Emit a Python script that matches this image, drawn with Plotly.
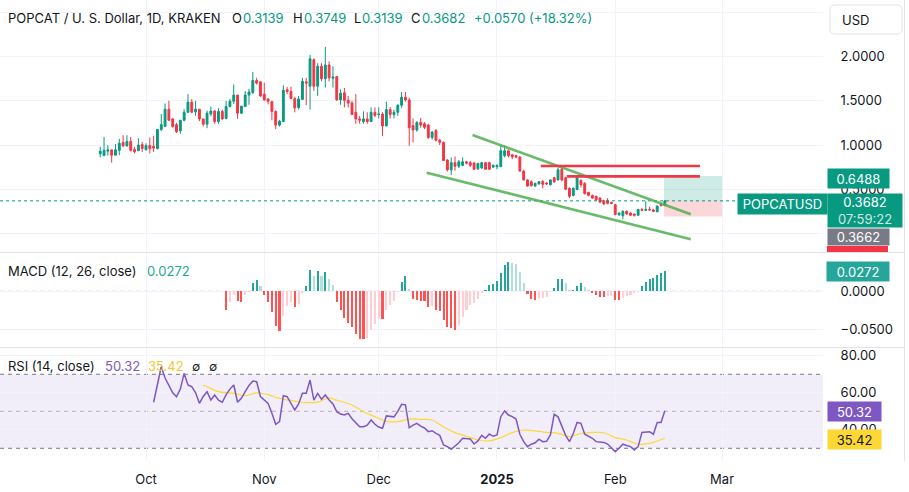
import pandas as pd
import plotly.graph_objects as go

# ---------------- data ----------------
start_date = "2024-09-19"

opens = [0.90, 0.88, 0.93, 0.945, 0.885, 0.94, 1.03, 0.99, 1.04, 0.95,
         0.935, 1.005, 0.945, 0.995, 0.985, 0.96, 1.175, 1.21, 1.405, 1.295,
         1.23, 1.16, 1.28, 1.37, 1.485, 1.375, 1.405, 1.295, 1.235, 1.35,
         1.385, 1.265, 1.38, 1.30, 1.435, 1.495, 1.565, 1.36, 1.435, 1.565,
         1.595, 1.73, 1.715, 1.575, 1.52, 1.49, 1.38, 1.225, 1.265, 1.625,
         1.605, 1.525, 1.425, 1.515, 1.715, 1.665, 1.965, 1.665, 1.89, 1.75,
         1.905, 1.755, 1.775, 1.51, 1.59, 1.505, 1.475, 1.37, 1.295, 1.265,
         1.295, 1.265, 1.37, 1.345, 1.35, 1.215, 1.40, 1.345, 1.37, 1.45,
         1.54, 1.51, 1.22, 1.17, 1.255, 1.24, 1.225, 1.085, 1.165, 1.055,
         1.03, 0.83, 0.72, 0.80, 0.76, 0.77, 0.81, 0.80, 0.795, 0.73,
         0.74, 0.80, 0.80, 0.75, 0.755, 0.755, 0.88, 0.935, 0.89, 0.88,
         0.865, 0.705, 0.605, 0.585, 0.535, 0.56, 0.59, 0.57, 0.55, 0.63,
         0.605, 0.725, 0.63, 0.51, 0.43, 0.495, 0.60, 0.565, 0.465, 0.43,
         0.42, 0.40, 0.37, 0.37, 0.35, 0.325, 0.21, 0.20, 0.25, 0.23,
         0.22, 0.205, 0.27, 0.26, 0.27, 0.265, 0.245, 0.33, 0.3139]
highs = [0.98, 1.09, 1.00, 0.945, 1.01, 1.07, 1.11, 1.11, 1.09, 0.98,
         1.075, 1.035, 1.02, 1.085, 1.105, 1.175, 1.35, 1.47, 1.50, 1.305,
         1.25, 1.28, 1.405, 1.575, 1.52, 1.50, 1.405, 1.295, 1.39, 1.435,
         1.395, 1.415, 1.40, 1.50, 1.52, 1.685, 1.565, 1.44, 1.61, 1.635,
         1.825, 1.76, 1.715, 1.705, 1.53, 1.50, 1.39, 1.285, 1.675, 1.655,
         1.66, 1.545, 1.555, 1.76, 1.76, 2.02, 1.98, 1.925, 1.925, 2.11,
         1.945, 1.89, 1.775, 1.63, 1.645, 1.555, 1.50, 1.575, 1.33, 1.38,
         1.37, 1.425, 1.425, 1.425, 1.37, 1.49, 1.43, 1.40, 1.46, 1.60,
         1.60, 1.535, 1.30, 1.27, 1.305, 1.26, 1.24, 1.16, 1.18, 1.07,
         1.04, 0.84, 0.86, 0.87, 0.83, 0.86, 0.82, 0.82, 0.81, 0.80,
         0.81, 0.81, 0.81, 0.78, 0.78, 0.995, 0.995, 0.95, 0.90, 0.89,
         0.87, 0.72, 0.61, 0.60, 0.575, 0.59, 0.60, 0.58, 0.61, 0.64,
         0.74, 0.74, 0.64, 0.52, 0.52, 0.66, 0.61, 0.58, 0.47, 0.44,
         0.425, 0.41, 0.38, 0.40, 0.36, 0.33, 0.24, 0.26, 0.26, 0.24,
         0.225, 0.28, 0.29, 0.365, 0.30, 0.275, 0.315, 0.335, 0.3749]
lows = [0.86, 0.88, 0.88, 0.80, 0.885, 0.885, 0.975, 0.98, 0.925, 0.905,
        0.935, 0.92, 0.94, 0.905, 0.92, 0.95, 1.16, 1.21, 1.27, 1.195,
        1.135, 1.13, 1.27, 1.365, 1.36, 1.33, 1.27, 1.21, 1.19, 1.325,
        1.24, 1.24, 1.285, 1.29, 1.425, 1.465, 1.295, 1.35, 1.435, 1.455,
        1.575, 1.685, 1.545, 1.50, 1.46, 1.28, 1.18, 1.21, 1.265, 1.575,
        1.52, 1.37, 1.40, 1.515, 1.45, 1.40, 1.61, 1.555, 1.72, 1.65,
        1.72, 1.65, 1.50, 1.455, 1.425, 1.425, 1.345, 1.24, 1.24, 1.24,
        1.24, 1.265, 1.315, 1.30, 1.10, 1.215, 1.30, 1.30, 1.33, 1.42,
        1.49, 0.99, 1.03, 1.15, 1.195, 1.18, 1.07, 1.06, 1.04, 1.00,
        0.82, 0.70, 0.66, 0.71, 0.74, 0.76, 0.78, 0.75, 0.72, 0.72,
        0.73, 0.72, 0.72, 0.74, 0.725, 0.75, 0.86, 0.86, 0.84, 0.85,
        0.70, 0.60, 0.53, 0.53, 0.53, 0.55, 0.51, 0.55, 0.54, 0.57,
        0.60, 0.59, 0.49, 0.40, 0.42, 0.49, 0.52, 0.44, 0.42, 0.39,
        0.37, 0.34, 0.32, 0.33, 0.33, 0.205, 0.20, 0.16, 0.21, 0.195,
        0.19, 0.20, 0.25, 0.255, 0.26, 0.24, 0.24, 0.305, 0.3139]
closes = [0.93, 0.94, 0.945, 0.885, 0.945, 1.02, 0.99, 1.04, 0.94, 0.925,
          1.00, 0.96, 0.995, 0.96, 0.965, 1.175, 1.23, 1.405, 1.28, 1.21,
          1.15, 1.28, 1.37, 1.485, 1.37, 1.405, 1.295, 1.235, 1.36, 1.385,
          1.265, 1.38, 1.295, 1.435, 1.495, 1.565, 1.36, 1.44, 1.565, 1.60,
          1.73, 1.70, 1.555, 1.51, 1.495, 1.38, 1.225, 1.27, 1.62, 1.605,
          1.525, 1.42, 1.52, 1.72, 1.70, 1.975, 1.665, 1.89, 1.75, 1.905,
          1.76, 1.77, 1.51, 1.585, 1.505, 1.475, 1.345, 1.295, 1.28, 1.295,
          1.265, 1.37, 1.335, 1.35, 1.215, 1.40, 1.345, 1.37, 1.45, 1.54,
          1.51, 1.195, 1.17, 1.255, 1.225, 1.20, 1.085, 1.145, 1.055, 1.03,
          0.825, 0.72, 0.80, 0.76, 0.81, 0.81, 0.795, 0.77, 0.725, 0.79,
          0.80, 0.725, 0.725, 0.77, 0.77, 0.935, 0.935, 0.88, 0.865, 0.865,
          0.705, 0.605, 0.535, 0.54, 0.565, 0.585, 0.555, 0.56, 0.605, 0.585,
          0.72, 0.605, 0.50, 0.42, 0.51, 0.63, 0.55, 0.45, 0.43, 0.40,
          0.38, 0.355, 0.335, 0.34, 0.34, 0.215, 0.23, 0.25, 0.22, 0.205,
          0.205, 0.27, 0.26, 0.27, 0.265, 0.25, 0.31, 0.3139, 0.3682]

# MACD histogram (12, 26, close), first value on the 34th candle
macd_first = 33
macd_hist = [-0.0243, -0.0146, -0.0053, -0.0124, -0.0137, -0.0053, -0.0009, 0.011, 0.015, 0.007,
             -0.0044, -0.0137, -0.027, -0.0455, -0.052, -0.032, -0.019, -0.0146, -0.0203, -0.0164,
             -0.0018, 0.007, 0.0283, 0.0203, 0.027, 0.0203, 0.0256, 0.0164, 0.0084, -0.0137,
             -0.0243, -0.035, -0.0415, -0.0469, -0.056, -0.0628, -0.0628, -0.0614, -0.0508, -0.0429,
             -0.0362, -0.0362, -0.0243, -0.0177, -0.0124, -0.0013, 0.0124, 0.0203, 0.003, -0.0097,
             -0.011, -0.0124, -0.0124, -0.0203, -0.019, -0.0243, -0.0256, -0.0376, -0.0469, -0.0482,
             -0.0508, -0.0442, -0.0336, -0.0243, -0.0177, -0.015, -0.0097, -0.0018, 0.0018, 0.0084,
             0.0097, 0.0137, 0.0243, 0.0349, 0.0389, 0.0376, 0.0362, 0.0256, 0.011, -0.0035,
             -0.0097, -0.011, -0.0097, -0.0084, -0.0071, -0.0004, 0.0044, 0.0164, 0.0166, 0.011,
             0.0018, 0.0022, 0.007, 0.011, 0.0057, 0.0018, -0.0018, -0.0044, -0.0071, -0.0071,
             -0.0068, -0.0066, -0.011, -0.011, -0.0084, -0.0057, -0.0044, -0.0027, -0.0004, 0.007,
             0.0124, 0.0164, 0.0177, 0.0217, 0.0243, 0.0272]

# RSI (14, close), first value on the 15th candle
rsi_first = 14
rsi = [54.9, 65, 74.1, 68, 64, 60, 57.9, 62, 70.5, 64.2,
       63.3, 60, 54.3, 58, 60.6, 56.1, 58.8, 56, 54.9, 59,
       62, 64.2, 54.9, 57, 60.6, 64, 66.4, 66, 58, 56,
       54.3, 49, 43, 44.4, 58.4, 57.9, 54, 50.7, 54, 59.7,
       59.7, 66.9, 56.1, 59.7, 56.5, 58.8, 56.1, 54, 49.8, 48.5,
       48, 48.9, 46, 44, 41.7, 41.7, 42.5, 45.3, 43, 41.5,
       40.8, 47.5, 47.1, 47, 50, 53.8, 53.5, 41.1, 42.5, 43.5,
       42, 41, 39, 39.5, 38.1, 37, 31.8, 30.9, 29.5, 31,
       33, 35.4, 35.2, 35, 32.3, 34, 37, 35.4, 37.7, 36.5,
       37.2, 47.1, 50.2, 48, 47.1, 45.8, 37.6, 33.6, 30.9, 32.2,
       33, 34.9, 33.6, 33.8, 37.2, 48.4, 47, 42, 37, 33.6,
       38, 44, 43.5, 37.6, 36.5, 35.4, 33.6, 33.2, 33.2, 32.3,
       30, 28.2, 30, 32.2, 31.5, 30.9, 29.1, 30.9, 38.6, 39,
       39, 37.6, 44, 44, 50.32]

# RSI moving average (yellow), read at these dates
rsi_ma_dates = ["2024-10-16", "2024-10-17", "2024-10-20", "2024-10-24", "2024-10-27",
                "2024-10-30", "2024-11-02", "2024-11-05", "2024-11-09", "2024-11-12",
                "2024-11-15", "2024-11-18", "2024-11-20", "2024-11-24", "2024-11-27",
                "2024-11-30", "2024-12-03", "2024-12-06", "2024-12-09", "2024-12-12",
                "2024-12-15", "2024-12-18", "2024-12-21", "2024-12-24", "2024-12-27",
                "2024-12-30", "2025-01-02", "2025-01-05", "2025-01-08", "2025-01-11",
                "2025-01-14", "2025-01-17", "2025-01-20", "2025-01-23", "2025-01-26",
                "2025-01-29", "2025-02-01", "2025-02-04", "2025-02-07", "2025-02-10",
                "2025-02-14"]
rsi_ma = [64.2, 63.3, 60.6, 59.7, 58.4, 60, 59, 57, 55.5, 54.7,
          55, 57.3, 56, 53.4, 49.8, 47.1, 44.6, 44.4, 45.8, 45.6,
          45.3, 41.5, 38.5, 36.5, 34.5, 34, 35.8, 38.5, 39.9, 39.4,
          38.6, 38.1, 36.3, 38, 38.6, 38.4, 35.8, 34.5, 32.2, 32.7,
          35.42]

# drawings
trend_upper = [("2024-12-25 14:00", 1.113), ("2025-02-20 19:00", 0.216)]
trend_lower = [("2024-12-13 14:00", 0.687), ("2025-02-20 19:00", -0.067)]
red_levels = [("2025-01-12 12:00", "2025-02-23 05:00", 0.762),
              ("2025-01-19 07:00", "2025-02-23 05:00", 0.645)]
pos_start, pos_end = "2025-02-13 19:00", "2025-03-01 00:00"
pos_entry, pos_target, pos_stop = 0.3682, 0.6488, 0.19

last_price = 0.3682
price_ticks = [0.0, 0.5, 1.0, 1.5, 2.0, 2.5]
price_tick_text = ["", "0.5000", "1.0000", "1.5000", "2.0000", ""]   # 0 and 2.5 hidden under labels
macd_ticks = [0.0, -0.05]
macd_tick_text = ["0.0000", "\u22120.0500"]
rsi_ticks = [40, 60, 80]
rsi_tick_text = ["40.00", "60.00", "80.00"]
month_ticks = ["2024-10-01", "2024-11-01", "2024-12-01", "2025-01-01", "2025-02-01", "2025-03-01"]
month_text = ["Oct", "Nov", "Dec", "<b>2025</b>", "Feb", "Mar"]

# ---------------- styling / layout geometry ----------------
W, H = 909, 492
PW, PH = 823, 461          # plot area size in px
FONT = "Inter, Roboto, 'Noto Sans', sans-serif"
TXT = "#131722"
UP, DOWN = "#089981", "#F23645"
GRID = "#F0F3FA"
SEP = "#E0E3EB"

PX_PER_DAY = 3.815
OCT1_PX = 146
oct1 = pd.Timestamp("2024-10-01")
x_range = [oct1 - pd.Timedelta(days=OCT1_PX / PX_PER_DAY),
           oct1 + pd.Timedelta(days=(PW - OCT1_PX) / PX_PER_DAY)]


def X(px):
    return px / PW


def Y(py):
    return 1 - py / PH


dates = pd.date_range(start_date, periods=len(closes), freq="D")

fig = go.Figure()

fig.add_trace(go.Candlestick(
    x=dates, open=opens, high=highs, low=lows, close=closes,
    increasing=dict(line=dict(color=UP, width=1), fillcolor=UP),
    decreasing=dict(line=dict(color=DOWN, width=1), fillcolor=DOWN),
    whiskerwidth=0, xaxis="x", yaxis="y", hoverinfo="skip"))

# MACD histogram colours (TradingView rule)
mcols = []
for k, v in enumerate(macd_hist):
    prev = macd_hist[k - 1] if k > 0 else (v + 1 if v >= 0 else 0)
    if v >= 0:
        mcols.append("#26A69A" if v > prev else "#B2DFDB")
    else:
        mcols.append("#FFCDD2" if v > prev else "#FF5252")

fig.add_trace(go.Bar(
    x=dates[macd_first:], y=macd_hist, marker=dict(color=mcols, line=dict(width=0)),
    width=0.55 * 86400000, xaxis="x2", yaxis="y2", hoverinfo="skip"))

fig.add_trace(go.Scatter(
    x=pd.to_datetime(rsi_ma_dates), y=rsi_ma, mode="lines",
    line=dict(color="#FDD835", width=1.2, shape="spline", smoothing=1.0),
    xaxis="x3", yaxis="y3", hoverinfo="skip"))
fig.add_trace(go.Scatter(
    x=dates[rsi_first:], y=rsi, mode="lines",
    line=dict(color="#7E57C2", width=1.5),
    xaxis="x3", yaxis="y3", hoverinfo="skip"))

xcommon = dict(range=x_range, tickvals=pd.to_datetime(month_ticks), ticktext=month_text,
               showgrid=True, gridcolor=GRID, gridwidth=1, zeroline=False, showline=False,
               domain=[0, 1], fixedrange=True)
ycommon = dict(side="right", showgrid=True, gridcolor=GRID, zeroline=False, showline=False,
               ticks="outside", ticklen=14, tickcolor="rgba(0,0,0,0)",
               tickfont=dict(size=13, color=TXT, family=FONT), fixedrange=True)

fig.update_layout(
    width=W, height=H,
    margin=dict(l=0, r=W - PW, t=0, b=H - PH, pad=0),
    paper_bgcolor="white", plot_bgcolor="white",
    showlegend=False, bargap=0,
    font=dict(family=FONT, size=13, color=TXT),
    xaxis=dict(**xcommon, anchor="y", showticklabels=False, rangeslider=dict(visible=False)),
    xaxis2=dict(**xcommon, anchor="y2", matches="x", showticklabels=False),
    xaxis3=dict(**xcommon, anchor="y3", matches="x", showticklabels=True,
                ticks="outside", ticklen=6, tickcolor="rgba(0,0,0,0)",
                tickfont=dict(size=13, color=TXT, family=FONT)),
    yaxis=dict(**ycommon, anchor="x", domain=[Y(252), 1],
               range=[1 - (252 - 145) / 88.4, 1 + 145 / 88.4],
               tickvals=price_ticks, ticktext=price_tick_text),
    yaxis2=dict(**ycommon, anchor="x2", domain=[Y(347), Y(253)],
                range=[-(347 - 291.3) / 760, (291.3 - 253) / 760],
                tickvals=macd_ticks, ticktext=macd_tick_text),
    yaxis3=dict(**ycommon, anchor="x3", domain=[0, Y(348)],
                range=[50 - (PH - 411.3) / 1.85, 50 + (411.3 - 348) / 1.85],
                tickvals=rsi_ticks, ticktext=rsi_tick_text),
)

shapes = []
# RSI band and levels
shapes.append(dict(type="rect", xref="paper", yref="y3", x0=0, x1=1, y0=30, y1=70,
                   fillcolor="rgba(126,87,194,0.1)", line=dict(width=0), layer="below"))
for lv, col in [(70, "#787B86"), (30, "#787B86"), (50, "rgba(120,123,134,0.5)")]:
    shapes.append(dict(type="line", xref="paper", yref="y3", x0=0, x1=1, y0=lv, y1=lv,
                       line=dict(color=col, width=1, dash="4px,4px"), layer="below"))
# MACD zero line
shapes.append(dict(type="line", xref="paper", yref="y2", x0=0, x1=1, y0=0, y1=0,
                   line=dict(color="rgba(120,123,134,0.55)", width=1, dash="4px,4px"), layer="below"))
# long position tool
shapes.append(dict(type="rect", xref="x", yref="y", x0=pos_start, x1=pos_end,
                   y0=pos_entry, y1=pos_target, fillcolor="rgba(8,153,129,0.2)",
                   line=dict(width=0), layer="above"))
shapes.append(dict(type="rect", xref="x", yref="y", x0=pos_start, x1=pos_end,
                   y0=pos_stop, y1=pos_entry, fillcolor="rgba(242,54,69,0.2)",
                   line=dict(width=0), layer="above"))
# last price dotted line
shapes.append(dict(type="line", xref="paper", yref="y", x0=0, x1=1, y0=last_price, y1=last_price,
                   line=dict(color=UP, width=1, dash="dot"), layer="above"))
# trend lines
for (a, b) in [trend_upper, trend_lower]:
    shapes.append(dict(type="line", xref="x", yref="y", x0=a[0], y0=a[1], x1=b[0], y1=b[1],
                       line=dict(color="rgba(76,175,80,0.85)", width=2.6), layer="above"))
# red levels
for (a, b, lv) in red_levels:
    shapes.append(dict(type="line", xref="x", yref="y", x0=a, x1=b, y0=lv, y1=lv,
                       line=dict(color=DOWN, width=2.6), layer="above"))
# pane separators
for sy in [252.5, 347.5]:
    shapes.append(dict(type="line", xref="paper", yref="paper", x0=0, x1=X(905), y0=Y(sy), y1=Y(sy),
                       line=dict(color=SEP, width=1), layer="above"))
shapes.append(dict(type="line", xref="paper", yref="paper", x0=X(904.5), x1=X(904.5), y0=Y(0), y1=Y(PH),
                   line=dict(color=SEP, width=1), layer="above"))
# red (stop) label partially visible
shapes.append(dict(type="rect", xref="paper", yref="paper", x0=X(827), x1=X(888), y0=Y(252), y1=Y(246),
                   fillcolor=DOWN, line=dict(width=0), layer="above"))
# USD button (rounded)
x0, x1, y0, y1, r = 830, 902, 5, 34, 5
path = (f"M {X(x0 + r)} {Y(y0)} L {X(x1 - r)} {Y(y0)} Q {X(x1)} {Y(y0)} {X(x1)} {Y(y0 + r)} "
        f"L {X(x1)} {Y(y1 - r)} Q {X(x1)} {Y(y1)} {X(x1 - r)} {Y(y1)} "
        f"L {X(x0 + r)} {Y(y1)} Q {X(x0)} {Y(y1)} {X(x0)} {Y(y1 - r)} "
        f"L {X(x0)} {Y(y0 + r)} Q {X(x0)} {Y(y0)} {X(x0 + r)} {Y(y0)} Z")
shapes.append(dict(type="path", xref="paper", yref="paper", path=path, fillcolor="white",
                   line=dict(color=SEP, width=1), layer="above"))
fig.update_layout(shapes=shapes)

ann = []


def text(px, py, s, color=TXT, size=13, anchor="left"):
    ann.append(dict(xref="paper", yref="paper", x=X(px), y=Y(py), text=s, showarrow=False,
                    xanchor=anchor, yanchor="middle", font=dict(family=FONT, size=size, color=color),
                    borderpad=0))


def box(px0, px1, py0, py1, s, bg, color="white", size=13):
    ann.append(dict(xref="paper", yref="paper", x=X(px0), y=Y(py0), text=s, showarrow=False,
                    xanchor="left", yanchor="top", width=px1 - px0, height=py1 - py0,
                    bgcolor=bg, borderpad=0, align="center", valign="middle",
                    font=dict(family=FONT, size=size, color=color)))


# header legend
text(7, 18, "POPCAT / U. S. Dollar, 1D, KRAKEN")
for lab, lx, val, vx in [("O", 231, "0.3139", 242), ("H", 292, "0.3749", 303),
                         ("L", 353, "0.3139", 361), ("C", 410, "0.3682", 421)]:
    text(lx, 18, lab)
    text(vx, 18, val, color=UP)
text(473, 18, "+0.0570 (+18.32%)", color=UP)

text(7, 271, "MACD (12, 26, close)")
text(146, 271, "0.0272", color="#22AB94")
text(7, 366, "RSI (14, close)")
text(104, 366, "50.32", color="#7E57C2")
text(147, 366, "35.42", color="#F7C82E")
text(191, 366, "\u2205", size=12)
text(208, 366, "\u2205", size=12)

text(841, 19.5, "USD")

# price scale labels
box(827, 888, 168, 187, "0.6488", UP)
box(737, 826, 193, 213, "POPCATUSD", UP)
box(827, 901, 193, 226, "0.3682<br><span style='color:rgba(255,255,255,0.82)'>07:59:22</span>", UP)
box(827, 888, 228, 244, "0.3662", "#787B86")
box(826, 888, 261, 280, "0.0272", "#26A69A")
box(827, 880, 401, 420, "50.32", "#7E57C2")
box(827, 880, 429, 448, "35.42", "#FDD835", color=TXT)

fig.update_layout(annotations=ann)
fig.write_html("out.html",
               config={"displayModeBar": False, "staticPlot": True},
               post_script="document.body.style.margin='0';document.body.style.overflow='hidden';")
